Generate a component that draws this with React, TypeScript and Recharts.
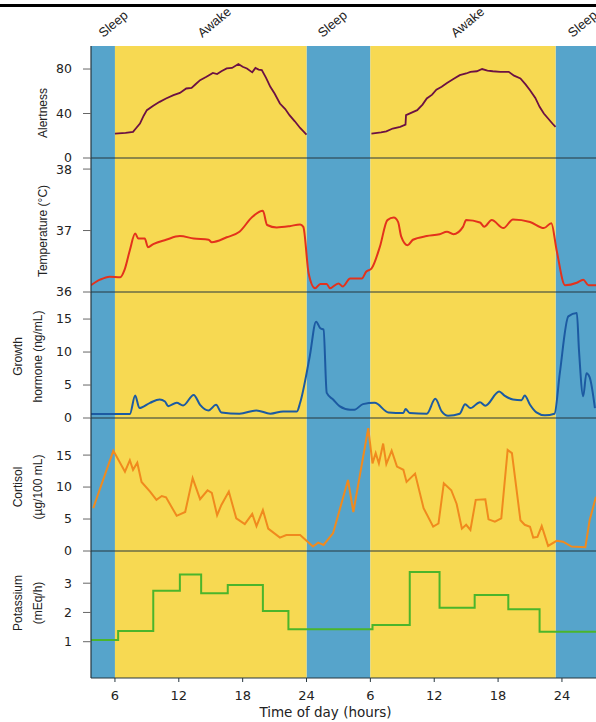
import { LineChart, Line, XAxis, YAxis, ReferenceArea, ReferenceLine } from 'recharts';

// hours are continuous: 24 = midnight of day 1, 30 = 06:00 of day 2
const sleepStarts = [3.75, 24, 47.4];
const sleepEnds = [6, 30, 51.2];
const awakeStarts = [6, 30];
const awakeEnds = [24, 47.4];

const stateLabels = ['Sleep', 'Awake', 'Sleep', 'Awake', 'Sleep'];
const stateLabelHours = [4.9, 14.2, 25.5, 38.0, 49.0];

const xTicks = [6, 12, 18, 24, 30, 36, 42, 48];
const xTickLabels = ['6', '12', '18', '24', '6', '12', '18', '24'];

const alertnessHours = [
  6.0, 7.0, 7.7, 8.0, 8.35, 8.7, 9.0, 9.6, 10.2, 10.8, 11.5, 12.1, 12.7, 13.2, 13.6, 14.0, 14.6, 15.2,
  15.6, 16.0, 16.5, 17.0, 17.6, 18.0, 18.4, 18.9, 19.2, 19.5, 19.8, 20.2, 20.6, 21.0, 21.5, 22.0, 22.4,
  22.9, 23.4, 24.0, 27.0, 30.1, 31.0, 31.5, 32.1, 32.8, 33.3, 33.35, 34.4, 34.9, 35.3, 35.8, 36.2,
  36.7, 37.2, 37.8, 38.4, 39.0, 39.4, 40.0, 40.5, 41.0, 41.5, 42.2, 43.0, 43.5, 44.1, 44.6, 45.0,
  45.5, 45.9, 46.3, 46.7, 47.1, 47.4,
];
const alertnessValues = [
  22, 22.5, 23.5, 27, 31, 38, 43, 47, 50.5, 53.5, 56.5, 58.5, 62.5, 63, 66.5, 70, 73, 76.5,
  75.5, 78, 80.5, 81, 84.5, 82, 80.5, 77, 81, 79.5, 79, 72, 64, 58, 49, 44, 38.5,
  33, 27, 21, null, 22, 23, 24, 26.5, 28, 30, 38.5, 43, 48, 53.5, 57, 61.5,
  64, 67.5, 71, 74.5, 76, 77.5, 78, 80, 78.5, 78, 77.5, 77.5, 74, 71.5, 66, 61,
  54, 46, 40, 35.5, 31, 28,
];

const temperatureHours = [
  3.75, 4.6, 5.5, 6.5, 6.9, 7.4, 7.9, 8.2, 8.8, 9.1, 9.6, 10.8, 12.1, 13.4, 14.8, 15.1, 16.5, 17.7,
  18.9, 19.9, 20.3, 21.2, 22.4, 23.4, 23.7, 24.2, 24.8, 25.3, 25.9, 26.2, 27.0, 27.4, 28.1, 29.2,
  29.6, 30.1, 30.9, 31.6, 32.2, 32.6, 32.9, 33.5, 34.0, 35.3, 36.5, 37.2, 37.8, 38.7, 39.0, 40.3,
  40.7, 41.4, 42.5, 43.4, 45.0, 46.3, 47.0, 47.5, 48.3, 49.4, 50.0, 50.5, 51.2,
];
const temperatureValues = [
  36.11, 36.2, 36.25, 36.24, 36.36, 36.68, 36.95, 36.87, 36.87, 36.73, 36.78, 36.85, 36.91, 36.87,
  36.85, 36.81, 36.89, 36.98, 37.22, 37.32, 37.09, 37.05, 37.07, 37.1, 37.06, 36.3, 36.06, 36.13,
  36.13, 36.06, 36.14, 36.09, 36.22, 36.22, 36.33, 36.38, 36.74, 37.17, 37.21, 37.14, 36.9, 36.76,
  36.85, 36.91, 36.94, 36.98, 36.94, 37.06, 37.17, 37.13, 37.06, 37.17, 37.04, 37.18, 37.14, 37.04,
  37.12, 36.68, 36.11, 36.15, 36.2, 36.11, 36.11,
];

const growthHours = [
  3.75, 7.4, 7.9, 8.3, 9.3, 10.2, 10.7, 11.0, 11.8, 12.4, 13.4, 14.0, 14.8, 15.5, 16.0, 17.7, 19.3,
  20.6, 21.8, 23.1, 23.4, 24.3, 24.9, 25.3, 25.6, 25.9, 26.5, 27.1, 28.1, 28.5, 29.3, 30.4, 31.7,
  33.1, 33.3, 33.7, 35.3, 36.1, 36.7, 37.3, 38.4, 38.9, 39.4, 40.3, 40.8, 42.1, 42.6, 43.4, 44.2,
  44.5, 45.0, 45.6, 46.4, 47.3, 47.8, 48.6, 49.4, 49.6, 50.0, 50.3, 50.6, 51.1,
];
const growthValues = [
  0.6, 0.6, 3.4, 1.5, 2.3, 2.8, 2.5, 1.8, 2.3, 1.9, 3.5, 2.0, 1.15, 2.0, 0.85, 0.65, 1.15,
  0.65, 1.0, 1.0, 2.3, 9.3, 14.6, 13.6, 13.4, 3.8, 2.8, 1.8, 1.26, 1.26, 2.1, 2.3, 0.85,
  0.75, 1.36, 0.75, 0.65, 2.9, 1.0, 0.35, 0.65, 2.1, 1.5, 2.4, 1.86, 4.0, 3.4, 2.8, 2.7,
  3.4, 2.0, 0.85, 0.4, 0.65, 6.8, 15.4, 15.9, 10.3, 3.3, 6.8, 6.2, 1.5,
];

const cortisolHours = [
  3.96, 5.85, 6.94, 7.4, 7.7, 8.1, 8.5, 9.3, 9.9, 10.4, 10.8, 11.8, 12.6, 13.3, 14.0, 14.7, 15.1,
  15.6, 16.0, 16.7, 17.4, 18.2, 18.9, 19.3, 19.9, 20.4, 21.5, 22.1, 23.4, 24.6, 25.1, 25.6, 26.5,
  27.9, 28.4, 29.8, 30.2, 30.5, 30.8, 31.2, 31.5, 32.0, 32.5, 33.1, 33.4, 34.2, 35.0, 35.9, 36.4,
  36.9, 37.6, 38.1, 38.6, 39.0, 39.4, 39.9, 40.8, 41.1, 41.7, 42.3, 42.9, 43.3, 44.1, 44.5, 45.0,
  45.3, 45.7, 46.1, 46.7, 47.5, 48.1, 48.9, 50.2, 50.6, 51.2,
];
const cortisolValues = [
  6.7, 15.7, 12.4, 14.2, 12.7, 13.8, 10.8, 9.3, 8.0, 8.6, 8.4, 5.5, 6.1, 11.4, 8.1, 9.5, 9.1,
  5.6, 7.2, 9.3, 5.1, 4.2, 5.8, 3.9, 6.4, 3.5, 2.1, 2.5, 2.5, 0.7, 1.3, 0.94, 2.8,
  11.1, 6.1, 19.2, 13.7, 15.3, 13.7, 16.8, 13.6, 15.7, 13.2, 12.7, 10.8, 12.1, 6.7, 3.8, 4.3,
  10.6, 9.5, 7.4, 3.5, 4.1, 3.3, 8.0, 8.1, 4.95, 4.6, 5.1, 15.8, 15.3, 4.8, 4.1, 3.8,
  2.1, 2.2, 3.9, 0.8, 1.6, 1.45, 0.7, 0.6, 4.8, 8.5,
];

const potassiumHours = [3.75, 6.3, 9.6, 12.1, 14.1, 16.6, 19.9, 22.3, 30.2, 33.7, 36.5, 39.8, 42.96, 45.9, 51.2];
const potassiumValues = [1.06, 1.37, 2.74, 3.3, 2.66, 2.94, 2.05, 1.43, 1.57, 3.38, 2.16, 2.6, 2.11, 1.34, 1.34];

const zip = (hours: number[], values: (number | null)[]) => hours.map((t, i) => ({ t, v: values[i] }));

const W = 596;
const xDomain = [3.75, 51.2];
const BLUE = '#56a4cb';
const YELLOW = '#f7d952';
const AXIS = '#26363e';
const SANS = '"Liberation Sans", Arial, sans-serif';
const WIDE = '"DejaVu Sans", sans-serif';

function bands() {
  return [
    ...sleepStarts.map((s, i) => (
      <ReferenceArea key={'s' + i} x1={s} x2={sleepEnds[i]} fill={BLUE} fillOpacity={1} stroke="none" ifOverflow="hidden" />
    )),
    ...awakeStarts.map((s, i) => (
      <ReferenceArea key={'a' + i} x1={s} x2={awakeEnds[i]} fill={YELLOW} fillOpacity={1} stroke="none" ifOverflow="hidden" />
    )),
  ];
}

function yTitle(lines: string[], shift: number) {
  return (props: any) => {
    const vb = props.viewBox;
    const cy = vb.y + vb.height / 2 + shift;
    const xs = lines.length === 1 ? [43] : [17.5, 37.5];
    return (
      <g>
        {lines.map((l, i) => (
          <text
            key={i}
            x={xs[i]}
            y={cy}
            dy="0.36em"
            textAnchor="middle"
            transform={`rotate(-90 ${xs[i]} ${cy})`}
            fontSize={12}
            fontFamily={SANS}
            fill="#222"
          >
            {l}
          </text>
        ))}
      </g>
    );
  };
}

function TopLabel(props: any) {
  const i = stateLabelHours.indexOf(props.payload.value);
  const x = props.x;
  return (
    <text x={x} y={38} transform={`rotate(-40 ${x} 38)`} fontSize={13} fontFamily={SANS} fill="#222">
      {stateLabels[i]}
    </text>
  );
}

function yAxis(domain: number[], ticks: number[], title: string[], shift: number) {
  return (
    <YAxis
      type="number"
      domain={domain}
      ticks={ticks}
      allowDataOverflow
      interval={0}
      width={91}
      tickSize={8}
      tickMargin={11}
      axisLine={{ stroke: AXIS, strokeWidth: 1.2 }}
      tickLine={{ stroke: '#666' }}
      tick={{ fill: '#222', fontSize: 12.5, fontFamily: WIDE }}
      label={yTitle(title, shift)}
    />
  );
}

const hiddenX = <XAxis type="number" dataKey="t" domain={xDomain} allowDataOverflow hide />;

export default function App() {
  const alertDomain = [0, 100.7];
  const tempDomain = [36, 38.18];
  const ghDomain = [0, 19.1];
  const cortDomain = [0, 20.8];
  const kDomain = [-0.24, 4.1];
  const margin = { top: 0, right: 0, bottom: 0, left: 0 };

  return (
    <div style={{ position: 'absolute', left: 0, top: 0, width: W, height: 722, background: '#fff', overflow: 'hidden' }}>
      <style>{'.recharts-surface{overflow:visible}'}</style>
      <div style={{ position: 'absolute', left: 0, top: 4, width: W, height: 3, background: '#000' }} />

      <div style={{ position: 'absolute', left: 0, top: 0 }}>
        <LineChart width={W} height={158} data={zip(alertnessHours, alertnessValues)} margin={margin}>
          <XAxis
            orientation="top"
            type="number"
            dataKey="t"
            domain={xDomain}
            allowDataOverflow
            ticks={stateLabelHours}
            interval={0}
            height={46}
            axisLine={false}
            tickLine={false}
            tick={<TopLabel />}
          />
          {yAxis(alertDomain, [0, 40, 80], ['Alertness'], 11)}
          {bands()}
          <Line type="linear" dataKey="v" stroke="#6c1143" strokeWidth={1.8} dot={false} isAnimationActive={false} />
        </LineChart>
      </div>

      <div style={{ position: 'absolute', left: 0, top: 158 }}>
        <LineChart width={W} height={134} data={zip(temperatureHours, temperatureValues)} margin={margin}>
          {hiddenX}
          {yAxis(tempDomain, [36, 37, 38], ['Temperature (°C)'], 6)}
          {bands()}
          <ReferenceLine y={tempDomain[1]} stroke={AXIS} strokeWidth={1.2} />
          <Line type="monotone" dataKey="v" stroke="#e3321c" strokeWidth={2} dot={false} isAnimationActive={false} />
        </LineChart>
      </div>

      <div style={{ position: 'absolute', left: 0, top: 292 }}>
        <LineChart width={W} height={126} data={zip(growthHours, growthValues)} margin={margin}>
          {hiddenX}
          {yAxis(ghDomain, [0, 5, 10, 15], ['Growth', 'hormone (ng/mL)'], 1.5)}
          {bands()}
          <ReferenceLine y={ghDomain[1]} stroke={AXIS} strokeWidth={1.2} />
          <Line type="monotone" dataKey="v" stroke="#1c5aa2" strokeWidth={2} dot={false} isAnimationActive={false} />
        </LineChart>
      </div>

      <div style={{ position: 'absolute', left: 0, top: 418 }}>
        <LineChart width={W} height={133} data={zip(cortisolHours, cortisolValues)} margin={margin}>
          {hiddenX}
          {yAxis(cortDomain, [0, 5, 10, 15], ['Cortisol', '(µg/100 mL)'], 2.5)}
          {bands()}
          <ReferenceLine y={cortDomain[1]} stroke={AXIS} strokeWidth={1.2} />
          <Line type="linear" dataKey="v" stroke="#f08a1e" strokeWidth={2} dot={false} isAnimationActive={false} />
        </LineChart>
      </div>

      <div style={{ position: 'absolute', left: 0, top: 551 }}>
        <LineChart width={W} height={171} data={zip(potassiumHours, potassiumValues)} margin={margin}>
          <XAxis
            type="number"
            dataKey="t"
            domain={xDomain}
            allowDataOverflow
            ticks={xTicks}
            interval={0}
            tickFormatter={(v: number) => xTickLabels[xTicks.indexOf(v)]}
            height={44}
            tickSize={4}
            tickMargin={9}
            axisLine={{ stroke: AXIS, strokeWidth: 1.2 }}
            tickLine={{ stroke: AXIS }}
            tick={{ fill: '#222', fontSize: 13, fontFamily: WIDE }}
            label={(props: any) => (
              <text
                x={props.viewBox.x + props.viewBox.width / 2 - 18}
                y={props.viewBox.y + 38.5}
                textAnchor="middle"
                fontSize={13.5}
                fontFamily={WIDE}
                fill="#222"
              >
                Time of day (hours)
              </text>
            )}
          />
          {yAxis(kDomain, [1, 2, 3], ['Potassium', '(mEq/h)'], -11.5)}
          {bands()}
          <ReferenceLine y={kDomain[1]} stroke={AXIS} strokeWidth={1.2} />
          <Line type="stepAfter" dataKey="v" stroke="#4bb52b" strokeWidth={2} dot={false} isAnimationActive={false} />
        </LineChart>
      </div>
    </div>
  );
}
